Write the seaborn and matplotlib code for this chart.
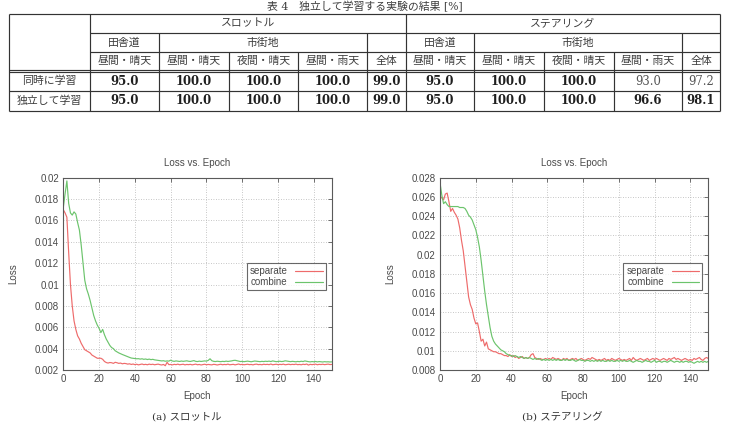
import matplotlib
matplotlib.use("Agg")
import matplotlib.pyplot as plt
import numpy as np
import pandas as pd
import seaborn as sns
from matplotlib.ticker import FuncFormatter, MultipleLocator

# ---------------- table data ----------------
table_title = "表 4　独立して学習する実験の結果 [%]"
groups = ["スロットル", "ステアリング"]
roads = ["田舎道", "市街地"]
conditions = ["昼間・晴天", "昼間・晴天", "夜間・晴天", "昼間・雨天", "全体"]
row_labels = ["同時に学習", "独立して学習"]
throttle_together = [95.0, 100.0, 100.0, 100.0, 99.0]
throttle_separate = [95.0, 100.0, 100.0, 100.0, 99.0]
steering_together = [95.0, 100.0, 100.0, 93.0, 97.2]
steering_separate = [95.0, 100.0, 100.0, 96.6, 98.1]

# ---------------- loss curves ----------------
epochs = list(range(151))
sep_throttle = [
    0.0170, 0.0167, 0.0163, 0.0130, 0.0100, 0.0080, 0.0066, 0.0058, 0.0052, 0.0049,
    0.0045, 0.0042, 0.0039, 0.0038, 0.0037, 0.0036, 0.0034, 0.0033, 0.0032, 0.0031,
    0.0031, 0.0031, 0.0030, 0.0028, 0.0027, 0.00265, 0.0027, 0.00268, 0.00262, 0.00272,
    0.00268, 0.00262, 0.00265, 0.00258, 0.00262, 0.00260, 0.00255, 0.00258, 0.00252, 0.00256,
    0.00250, 0.00254, 0.00248, 0.00252, 0.00256, 0.00250, 0.00253, 0.00249, 0.00255, 0.00251,
    0.00254, 0.00249, 0.00252, 0.00255, 0.00250, 0.00247, 0.00252, 0.00240, 0.00272, 0.00250,
    0.00252, 0.00248, 0.00253, 0.00250, 0.00255, 0.00249, 0.00251, 0.00254, 0.00248, 0.00252,
    0.00250, 0.00253, 0.00248, 0.00251, 0.00255, 0.00249, 0.00252, 0.00247, 0.00251, 0.00254,
    0.00249, 0.00252, 0.00250, 0.00248, 0.00253, 0.00251, 0.00247, 0.00250, 0.00254, 0.00249,
    0.00252, 0.00250, 0.00255, 0.00249, 0.00251, 0.00253, 0.00248, 0.00252, 0.00256, 0.00250,
    0.00253, 0.00249, 0.00251, 0.00254, 0.00250, 0.00252, 0.00248, 0.00253, 0.00255, 0.00250,
    0.00252, 0.00249, 0.00254, 0.00251, 0.00253, 0.00250, 0.00256, 0.00249, 0.00252, 0.00254,
    0.00250, 0.00253, 0.00251, 0.00255, 0.00249, 0.00252, 0.00254, 0.00250, 0.00253, 0.00251,
    0.00255, 0.00250, 0.00252, 0.00249, 0.00254, 0.00251, 0.00256, 0.00246, 0.00253, 0.00250,
    0.00252, 0.00255, 0.00249, 0.00253, 0.00251, 0.00254, 0.00250, 0.00253, 0.00255, 0.00251,
    0.00252,
]
comb_throttle = [
    0.0172, 0.0185, 0.0197, 0.0176, 0.0167, 0.0165, 0.0168, 0.0166, 0.0158, 0.0151,
    0.0137, 0.0120, 0.0104, 0.0096, 0.0091, 0.0085, 0.0078, 0.0071, 0.0066, 0.0062,
    0.0059, 0.0055, 0.0058, 0.0053, 0.0049, 0.0046, 0.0043, 0.0041, 0.0040, 0.0038,
    0.0037, 0.0036, 0.00352, 0.00345, 0.00338, 0.00330, 0.00325, 0.00318, 0.00312, 0.00310,
    0.00308, 0.00305, 0.00306, 0.00302, 0.00305, 0.00300, 0.00303, 0.00298, 0.00302, 0.00297,
    0.00300, 0.00295, 0.00292, 0.00290, 0.00288, 0.00285, 0.00287, 0.00282, 0.00285, 0.00283,
    0.00292, 0.00284, 0.00281, 0.00285, 0.00282, 0.00280, 0.00284, 0.00281, 0.00283, 0.00286,
    0.00282, 0.00280, 0.00284, 0.00288, 0.00281, 0.00279, 0.00283, 0.00280, 0.00282, 0.00285,
    0.00283, 0.00290, 0.00305, 0.00287, 0.00281, 0.00279, 0.00282, 0.00280, 0.00278, 0.00281,
    0.00279, 0.00283, 0.00280, 0.00282, 0.00285, 0.00289, 0.00291, 0.00287, 0.00283, 0.00279,
    0.00281, 0.00278, 0.00280, 0.00283, 0.00280, 0.00277, 0.00281, 0.00284, 0.00282, 0.00280,
    0.00278, 0.00281, 0.00279, 0.00282, 0.00280, 0.00283, 0.00279, 0.00285, 0.00281, 0.00278,
    0.00280, 0.00282, 0.00279, 0.00281, 0.00286, 0.00283, 0.00280, 0.00278, 0.00281, 0.00279,
    0.00277, 0.00280, 0.00278, 0.00282, 0.00279, 0.00285, 0.00281, 0.00278, 0.00276, 0.00279,
    0.00277, 0.00280, 0.00276, 0.00279, 0.00277, 0.00275, 0.00278, 0.00276, 0.00277, 0.00275,
    0.00276,
]
sep_steering = [
    0.0261, 0.0259, 0.0257, 0.0263, 0.0264, 0.0255, 0.0245, 0.0248, 0.0244, 0.0241,
    0.0237, 0.0228, 0.0215, 0.0204, 0.0188, 0.0172, 0.0156, 0.0148, 0.0143, 0.0134,
    0.0128, 0.0129, 0.0120, 0.0110, 0.0112, 0.0105, 0.0109, 0.0102, 0.0101, 0.0100,
    0.0099, 0.0099, 0.0098, 0.0097, 0.0097, 0.0096, 0.0095, 0.0095, 0.0094, 0.0096,
    0.0094, 0.0095, 0.0093, 0.0094, 0.0092, 0.0093, 0.0094, 0.0092, 0.0093, 0.0092,
    0.0093, 0.0096, 0.0097, 0.0093, 0.0092, 0.0091, 0.0092, 0.0091, 0.0091, 0.0092,
    0.0091, 0.0092, 0.0091, 0.0093, 0.0092, 0.0091, 0.0092, 0.0091, 0.0090, 0.0092,
    0.0091, 0.0092, 0.0090, 0.0091, 0.0092, 0.0091, 0.0092, 0.0090, 0.0091, 0.0092,
    0.0091, 0.0090, 0.0091, 0.0092, 0.0091, 0.0093, 0.0092, 0.0091, 0.0090, 0.0091,
    0.0090, 0.0091, 0.0092, 0.0090, 0.0091, 0.0090, 0.0092, 0.0091, 0.0090, 0.0091,
    0.0092, 0.0091, 0.0090, 0.0091, 0.0090, 0.0091, 0.0092, 0.0090, 0.0093, 0.0091,
    0.0090, 0.0091, 0.0092, 0.0091, 0.0090, 0.0091, 0.0092, 0.0090, 0.0091, 0.0092,
    0.0091, 0.0092, 0.0091, 0.0090, 0.0091, 0.0092, 0.0091, 0.0090, 0.0092, 0.0091,
    0.0092, 0.0093, 0.0091, 0.0092, 0.0091, 0.0090, 0.0091, 0.0092, 0.0091, 0.0090,
    0.0091, 0.0090, 0.0092, 0.0091, 0.0092, 0.0093, 0.0091, 0.0090, 0.0092, 0.0093,
    0.0092,
]
comb_steering = [
    0.0275, 0.0262, 0.0253, 0.0255, 0.0252, 0.0250, 0.0250, 0.0250, 0.0250, 0.0250,
    0.0250, 0.0249, 0.0249, 0.0249, 0.0248, 0.0245, 0.0241, 0.0239, 0.0236, 0.0231,
    0.0226, 0.0218, 0.0208, 0.0194, 0.0178, 0.0162, 0.0148, 0.0136, 0.0124, 0.0115,
    0.0110, 0.0107, 0.0105, 0.0103, 0.0101, 0.0100, 0.0099, 0.0097, 0.0096, 0.0095,
    0.0095, 0.0094, 0.0095, 0.0094, 0.0093, 0.0094, 0.0093, 0.0092, 0.0093, 0.0092,
    0.0093, 0.0092, 0.0091, 0.0092, 0.0091, 0.0092, 0.0091, 0.0090, 0.0091, 0.0090,
    0.0091, 0.0090, 0.0091, 0.0090, 0.0091, 0.0090, 0.0091, 0.0090, 0.0090, 0.0091,
    0.0090, 0.0091, 0.0090, 0.0090, 0.0091, 0.0090, 0.0089, 0.0090, 0.0091, 0.0090,
    0.0090, 0.0089, 0.0090, 0.0090, 0.0089, 0.0090, 0.0089, 0.0090, 0.0089, 0.0090,
    0.0089, 0.0090, 0.0089, 0.0089, 0.0090, 0.0089, 0.0090, 0.0089, 0.0089, 0.0090,
    0.0089, 0.0090, 0.0089, 0.0090, 0.0089, 0.0089, 0.0090, 0.0089, 0.0088, 0.0089,
    0.0090, 0.0089, 0.0089, 0.0088, 0.0089, 0.0090, 0.0089, 0.0089, 0.0088, 0.0089,
    0.0090, 0.0088, 0.0089, 0.0089, 0.0088, 0.0089, 0.0089, 0.0088, 0.0089, 0.0090,
    0.0089, 0.0088, 0.0089, 0.0089, 0.0088, 0.0089, 0.0088, 0.0089, 0.0089, 0.0088,
    0.0089, 0.0088, 0.0087, 0.0088, 0.0089, 0.0088, 0.0089, 0.0088, 0.0089, 0.0088,
    0.0089,
]
series_names = ["separate", "combine"]
xticks = [0, 20, 40, 60, 80, 100, 120, 140]
captions = ["(a) スロットル", "(b) ステアリング"]

# ---------------- style ----------------
sns.set_theme(style="white")
plt.rcParams["font.family"] = ["Liberation Sans", "Noto Sans CJK JP"]

W, H = 729, 430
fig = plt.figure(figsize=(W / 100, H / 100), dpi=100)
fig.patch.set_facecolor("white")

# ---------------- table (pixel coordinates overlay) ----------------
tb = fig.add_axes([0, 0, 1, 1])
tb.set_xlim(0, W)
tb.set_ylim(H, 0)
tb.axis("off")

LC = "#333333"
LW = 0.85
def hline(y, x0, x1):
    tb.plot([x0, x1], [y, y], color=LC, lw=LW, solid_capstyle="butt")
def vline(x, y0, y1):
    tb.plot([x, x], [y0, y1], color=LC, lw=LW, solid_capstyle="butt")

col_edges = [9, 90, 159, 229, 298, 367, 406, 474, 544, 614, 682, 720]
top, r1, r2, d1, d2, r4, bot = 13.5, 33, 52, 69.6, 71.8, 90.5, 110.5

hline(top, 9, 720); hline(bot, 9, 720)
vline(9, top, bot); vline(720, top, bot)
vline(90, top, bot); vline(406, top, bot)
hline(r1, 90, 720); hline(r2, 90, 720)
hline(d1, 9, 720); hline(d2, 9, 720); hline(r4, 9, 720)
for x in [159, 367, 474, 682]:
    vline(x, r1, bot)
for x in [229, 298, 544, 614]:
    vline(x, r2, bot)

JP = ["DejaVu Serif", "Noto Sans CJK JP"]
TC = "#3c3c3c"
tb.text(W / 2, 6.5, table_title, ha="center", va="center", fontsize=7.8, family=JP, color=TC)

tb.text((90 + 406) / 2, (top + r1) / 2, groups[0], ha="center", va="center", fontsize=7.8, family=JP, color=TC)
tb.text((406 + 720) / 2, (top + r1) / 2, groups[1], ha="center", va="center", fontsize=7.8, family=JP, color=TC)
y2 = (r1 + r2) / 2
for gx in [(90, 159, 367), (406, 474, 682)]:
    tb.text((gx[0] + gx[1]) / 2, y2, roads[0], ha="center", va="center", fontsize=7.8, family=JP, color=TC)
    tb.text((gx[1] + gx[2]) / 2, y2, roads[1], ha="center", va="center", fontsize=7.8, family=JP, color=TC)
y3 = (r2 + d1) / 2
all_conditions = conditions + conditions
for i, c in enumerate(all_conditions):
    cx = (col_edges[i + 1] + col_edges[i + 2]) / 2
    tb.text(cx, y3, c, ha="center", va="center", fontsize=7.8, family=JP, color=TC)

rows_vals = [throttle_together + steering_together, throttle_separate + steering_separate]
row_ys = [(d2 + r4) / 2, (r4 + bot) / 2]
for ri in range(2):
    tb.text((9 + 90) / 2, row_ys[ri], row_labels[ri], ha="center", va="center",
            fontsize=7.8, family=JP, color=TC)
    other = rows_vals[1 - ri]
    for ci, v in enumerate(rows_vals[ri]):
        cx = (col_edges[ci + 1] + col_edges[ci + 2]) / 2
        bold = v >= other[ci]
        tb.text(cx, row_ys[ri] + 0.5, f"{v:.1f}", ha="center", va="center",
                fontsize=8.4, family="DejaVu Serif",
                fontweight="bold" if bold else "normal",
                color="#1e1e1e" if bold else "#555555")

# ---------------- charts ----------------
RED = "#ee6b6b"
GREEN = "#6cc46c"
TICKC = "#4a4a4a"
FS = 7

def make_chart(rect, sep, comb, ylo, yhi, caption, cap_x):
    ax = fig.add_axes(rect)
    df = pd.DataFrame({
        "Epoch": epochs + epochs,
        "Loss": sep + comb,
        "series": [series_names[0]] * len(epochs) + [series_names[1]] * len(epochs),
    })
    sns.lineplot(data=df, x="Epoch", y="Loss", hue="series",
                 palette={series_names[0]: RED, series_names[1]: GREEN},
                 linewidth=0.85, ax=ax)
    ax.set_xlim(0, 150)
    ax.set_ylim(ylo, yhi)
    ax.set_xticks(xticks)
    ax.yaxis.set_major_locator(MultipleLocator(0.002))
    ax.yaxis.set_major_formatter(FuncFormatter(lambda v, p: f"{v:g}"))
    ax.grid(True, linestyle=(0, (1, 2)), color="#b4b4b4", linewidth=0.6)
    for s in ax.spines.values():
        s.set_color("#5a5a5a")
        s.set_linewidth(0.8)
    ax.tick_params(direction="in", length=3, width=0.6, colors="#5a5a5a",
                   labelcolor=TICKC, labelsize=FS, pad=3, top=True, right=True)
    ax.set_title("Loss vs. Epoch", fontsize=FS, color=TICKC, pad=8.5)
    ax.set_xlabel("Epoch", fontsize=FS, color=TICKC, labelpad=5)
    ax.set_ylabel("Loss", fontsize=FS, color=TICKC, labelpad=12)
    leg = ax.legend(loc="upper right", bbox_to_anchor=(0.977, 0.556), fontsize=FS,
                    frameon=True, fancybox=False, markerfirst=False,
                    handlelength=2.8, handletextpad=0.8, borderpad=0.3,
                    labelspacing=0.1, borderaxespad=0.0)
    leg.get_frame().set_edgecolor("#444444")
    leg.get_frame().set_linewidth(0.8)
    for t in leg.get_texts():
        t.set_color(TICKC)
    tb.text(cap_x, 417, caption, ha="center", va="center", fontsize=7.5,
            family=JP, color="#333333")
    return ax

make_chart([63.3 / W, 1 - 370 / H, 268.4 / W, 192.3 / H],
           sep_throttle, comb_throttle, 0.002, 0.02, captions[0], 187)
make_chart([440 / W, 1 - 370 / H, 268.3 / W, 192.3 / H],
           sep_steering, comb_steering, 0.008, 0.028, captions[1], 562)

fig.savefig("out.png", dpi=100, facecolor="white")
